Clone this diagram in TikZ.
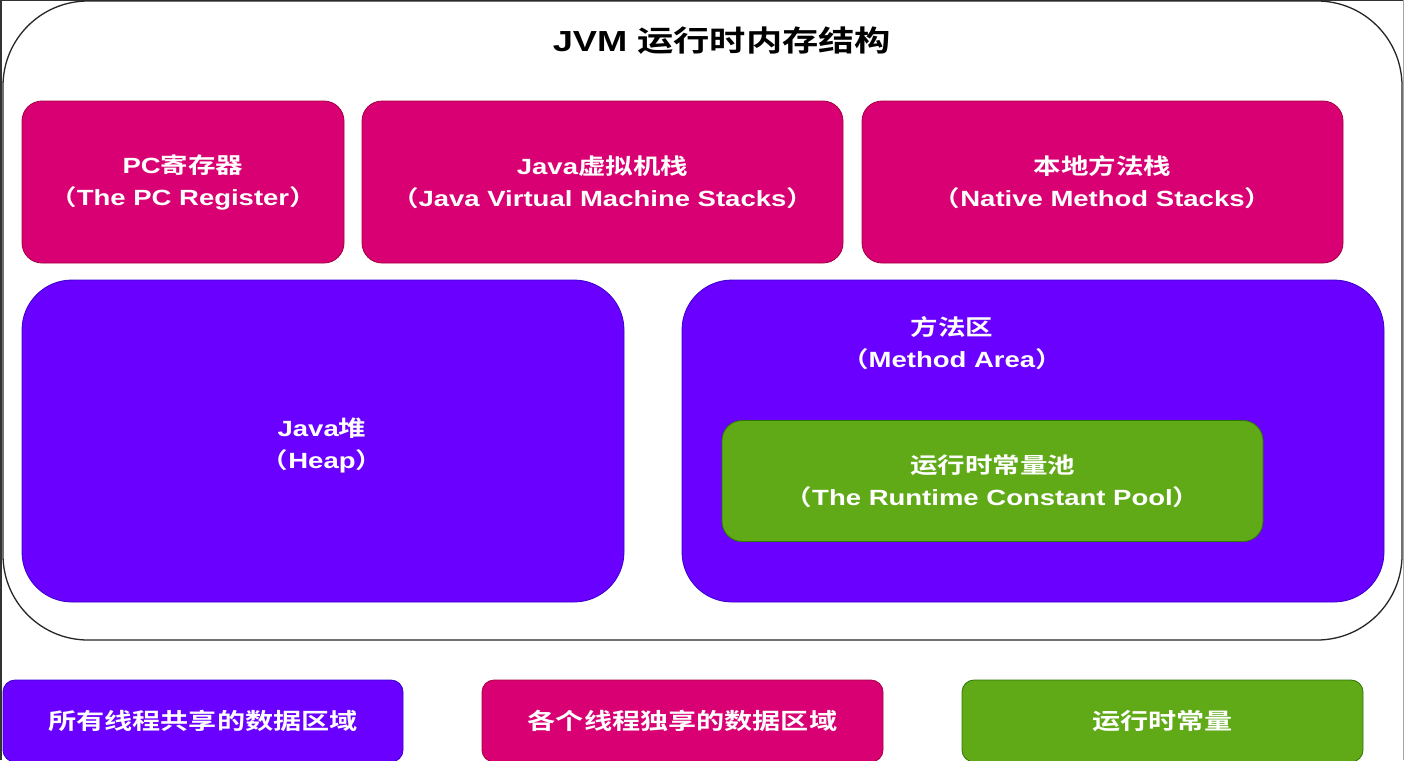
\documentclass[tikz,border=0pt]{standalone}
\usepackage{fontspec}
\setmainfont{Liberation Sans}[FakeStretch=1.25]
\newfontfamily\cjk{Noto Sans CJK SC}[FakeStretch=1.25,BoldFont={Noto Sans CJK SC Bold}]
\newcommand\zh[1]{{\cjk\bfseries #1}}
\definecolor{mag}{HTML}{D80073}
\definecolor{magd}{HTML}{A50040}
\definecolor{pur}{HTML}{6A00FF}
\definecolor{purd}{HTML}{3700CC}
\definecolor{grn}{HTML}{60A917}
\definecolor{grnd}{HTML}{2D7600}
\tikzset{
  area/.style={rectangle, line width=0.8pt, text=white, align=center, inner sep=0pt,
    font=\fontsize{22}{32}\selectfont\bfseries},
  magbox/.style={area, fill=mag, draw=magd, rounded corners=20pt},
  purbox/.style={area, fill=pur, draw=purd, rounded corners=50pt},
  grnbox/.style={area, fill=grn, draw=grnd, rounded corners=20pt},
  legend/.style={area, rounded corners=12pt, font=\fontsize{22.5}{28}\selectfont\bfseries},
}
\begin{document}
\begin{tikzpicture}[x=1pt,y=-1pt]
\useasboundingbox (0,0) rectangle (1404,760);
\clip (0,0) rectangle (1404,760);
\fill[white] (0,0) rectangle (1404,760);
% screenshot frame
\draw[line width=1.5pt, black!80] (0.75,0) -- (0.75,760);
\draw[line width=1.2pt, black!80] (0,0.6) -- (1404,0.6);
\draw[line width=1pt, black!35] (1403,0) -- (1403,760);
% outer container
\node[rectangle, draw=black!85, line width=1.3pt, rounded corners=85pt,
  minimum width=1399pt, minimum height=639pt, inner sep=0pt] (outer) at (702.5,320.5) {};
\node[font=\fontsize{29}{36}\selectfont\bfseries, inner sep=0pt] (title) at (722,41)
  {JVM \zh{运行时内存结构}};
% thread-private areas
\node[magbox, minimum width=322pt, minimum height=162pt] (pc) at (183,182)
  {PC\zh{寄存器}\\\zh{（}The PC Register\zh{）}};
\node[magbox, minimum width=481pt, minimum height=162pt] (jvms) at (602.5,182)
  {Java\zh{虚拟机栈}\\\zh{（}Java Virtual Machine Stacks\zh{）}};
\node[magbox, minimum width=481pt, minimum height=162pt] (nms) at (1102.5,182)
  {\zh{本地方法栈}\\\zh{（}Native Method Stacks\zh{）}};
% shared areas
\node[purbox, minimum width=602pt, minimum height=322pt] (heap) at (323,441) {};
\node[area] (heaplbl) at (322,445) {Java\zh{堆}\\\zh{（}Heap\zh{）}};
\node[purbox, minimum width=702pt, minimum height=322pt] (method) at (1033,441) {};
\node[area] (methodlbl) at (952,343)
  {\zh{方法区}\\\zh{（}Method Area\zh{）}};
\node[grnbox, minimum width=541pt, minimum height=121pt] (pool) at (992.5,481)
  {\zh{运行时常量池}\\\zh{（}The Runtime Constant Pool\zh{）}};
% legend
\node[legend, fill=pur, draw=purd, minimum width=400pt, minimum height=82pt] (lg1) at (203,721)
  {\zh{所有线程共享的数据区域}};
\node[legend, fill=mag, draw=magd, minimum width=401pt, minimum height=82pt] (lg2) at (682.5,721)
  {\zh{各个线程独享的数据区域}};
\node[legend, fill=grn, draw=grnd, minimum width=401pt, minimum height=82pt] (lg3) at (1162.5,721)
  {\zh{运行时常量}};
\end{tikzpicture}
\end{document}
